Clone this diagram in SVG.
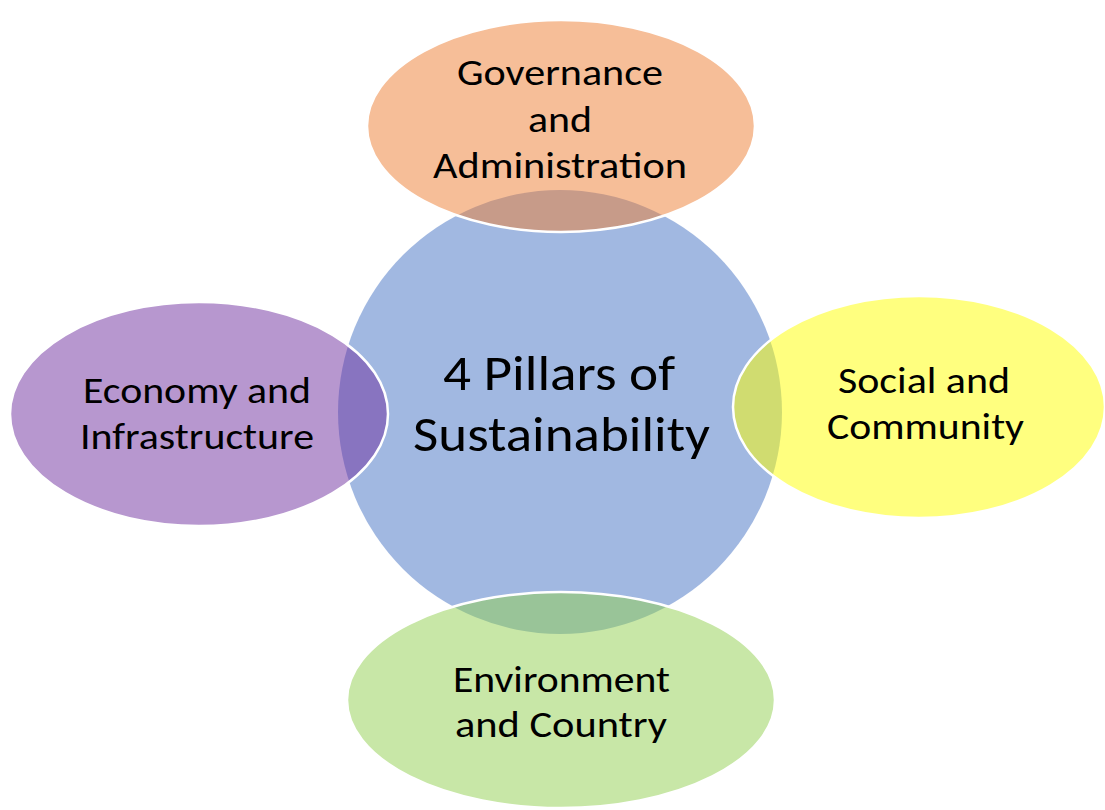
<svg xmlns="http://www.w3.org/2000/svg" width="1105" height="810" viewBox="0 0 1105 810">
  <style>
    .shape { stroke: #FFFFFF; stroke-width: 2.5; fill-opacity: 0.5; }
    .lbl { font-family: Carlito, Lato, "Open Sans", sans-serif; font-size: 37px; fill: #000000; }
    .ctr { font-family: Carlito, Lato, "Open Sans", sans-serif; font-size: 49px; fill: #000000; }
  </style>
  <rect width="1105" height="810" fill="#FFFFFF"/>
  <g id="center">
    <circle cx="560" cy="412" r="222" fill="#4472C4" fill-opacity="0.5"/>
  </g>
  <g id="connectors"></g>
  <g id="governance">
    <ellipse class="shape" cx="561" cy="126" rx="194" ry="106" fill="#ED7D31"/>
    <text class="lbl" x="457" y="85" textLength="206" lengthAdjust="spacingAndGlyphs">Governance</text>
    <text class="lbl" x="528" y="132" textLength="64" lengthAdjust="spacingAndGlyphs">and</text>
    <text class="lbl" x="433" y="178" textLength="254" lengthAdjust="spacingAndGlyphs">Administration</text>
  </g>
  <g id="economy">
    <ellipse class="shape" cx="199" cy="414" rx="189" ry="112" fill="#7030A0"/>
    <text class="lbl" x="83" y="403" textLength="228" lengthAdjust="spacingAndGlyphs">Economy and</text>
    <text class="lbl" x="80" y="449" textLength="234" lengthAdjust="spacingAndGlyphs">Infrastructure</text>
  </g>
  <g id="social">
    <ellipse class="shape" cx="919" cy="407" rx="186" ry="111" fill="#FFFF00"/>
    <text class="lbl" x="838" y="393" textLength="172" lengthAdjust="spacingAndGlyphs">Social and</text>
    <text class="lbl" x="827" y="439" textLength="197" lengthAdjust="spacingAndGlyphs">Community</text>
  </g>
  <g id="environment">
    <ellipse class="shape" cx="561" cy="700" rx="214" ry="108" fill="#92D050"/>
    <text class="lbl" x="453" y="692" textLength="217" lengthAdjust="spacingAndGlyphs">Environment</text>
    <text class="lbl" x="455" y="737" textLength="212" lengthAdjust="spacingAndGlyphs">and Country</text>
  </g>
  <g id="title">
    <text class="ctr" x="443" y="390" textLength="232" lengthAdjust="spacingAndGlyphs">4 Pillars of</text>
    <text class="ctr" x="413" y="451" textLength="297" lengthAdjust="spacingAndGlyphs">Sustainability</text>
  </g>
</svg>
